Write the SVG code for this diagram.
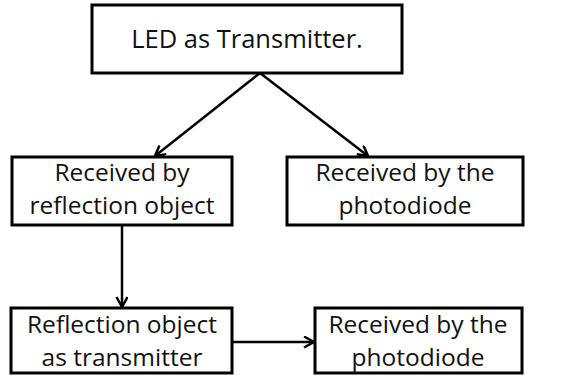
<svg xmlns="http://www.w3.org/2000/svg" width="565" height="375" viewBox="0 0 565 375">
<style>
.box{fill:#fff;stroke:#000;stroke-width:3}
.t{font-family:"Open Sans","Liberation Sans",sans-serif;font-size:24.5px;fill:#111;text-anchor:middle}
.c{stroke:#000;stroke-width:2.5;fill:none;marker-end:url(#ah)}
</style>
<defs>
<marker id="ah" markerUnits="userSpaceOnUse" markerWidth="14" markerHeight="14" refX="11" refY="6" orient="auto">
<path d="M1,0.5 L11,6 L1,11.5" fill="none" stroke="#000" stroke-width="2.5"/>
</marker>
</defs>
<rect width="565" height="375" fill="#fff"/>
<g id="connectors">
<line class="c" x1="260" y1="73" x2="155" y2="156"/>
<line class="c" x1="260" y1="73" x2="368" y2="156"/>
<line class="c" x1="122" y1="225" x2="122" y2="307"/>
<line class="c" x1="232" y1="342" x2="314" y2="342"/>
</g>
<g id="led">
<rect class="box" x="92" y="5" width="310" height="68"/>
<text class="t" x="247" y="48" style="font-size:25.5px">LED as Transmitter.</text>
</g>
<g id="reflectionReceive">
<rect class="box" x="12" y="157" width="220" height="68"/>
<text class="t" x="122" y="181">Received by</text>
<text class="t" x="122" y="214">reflection object</text>
</g>
<g id="photodiode1">
<rect class="box" x="287" y="157" width="236" height="68"/>
<text class="t" x="405" y="181">Received by the</text>
<text class="t" x="405" y="214">photodiode</text>
</g>
<g id="reflectionTransmit">
<rect class="box" x="11" y="308" width="221" height="65"/>
<text class="t" x="122" y="333">Reflection object</text>
<text class="t" x="122" y="366">as transmitter</text>
</g>
<g id="photodiode2">
<rect class="box" x="315" y="308" width="207" height="65"/>
<text class="t" x="418" y="333">Received by the</text>
<text class="t" x="418" y="366">photodiode</text>
</g>
</svg>
